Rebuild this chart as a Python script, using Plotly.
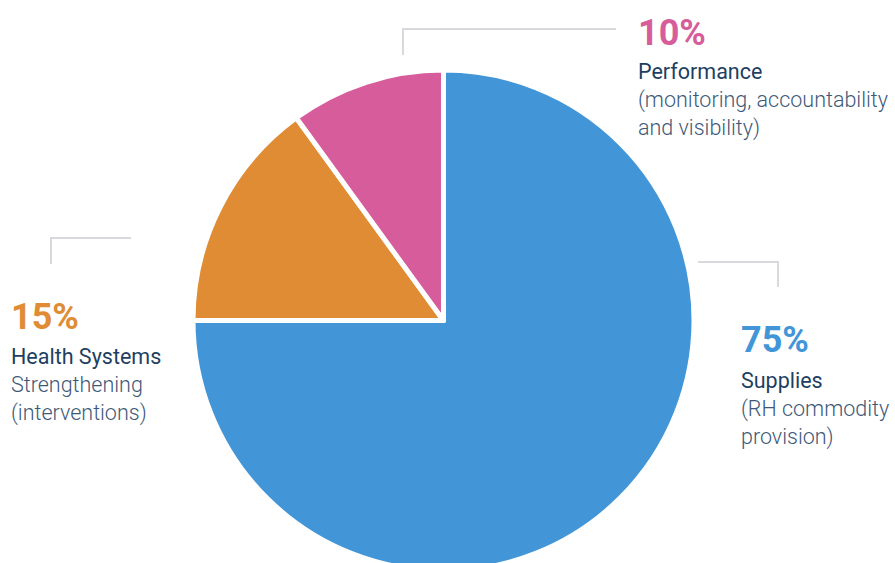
import plotly.graph_objects as go

# ---- data ----
labels = ["Supplies", "Health Systems", "Performance"]
values = [75, 15, 10]
pct_labels = ["75%", "15%", "10%"]
titles = ["Supplies", "Health Systems", "Performance"]
subtitles = [
    "(RH commodity<br>provision)",
    "Strengthening<br>(interventions)",
    "(monitoring, accountability<br>and visibility)",
]
colors = ["#4296D7", "#E08C35", "#D75C9B"]

W, H = 895, 572

def px(x):
    return x / W

def py(y):
    return (H - y) / H

fig = go.Figure(
    go.Pie(
        labels=labels,
        values=values,
        sort=False,
        direction="clockwise",
        rotation=0,
        marker=dict(colors=colors, line=dict(color="white", width=5)),
        textinfo="none",
        hoverinfo="label+percent",
        showlegend=False,
        domain=dict(x=[px(193), px(694)], y=[py(571), py(70)]),
    )
)

# label layout (pixel anchors for percent and text block)
label_pos = [
    dict(x=739, pct_y=340, txt_y=381),  # Supplies
    dict(x=9, pct_y=317, txt_y=357),    # Health Systems
    dict(x=636, pct_y=33, txt_y=72),    # Performance
]

title_color = "#1E3F62"
sub_color = "#3E5978"

annotations = []
for i in range(len(labels)):
    p = label_pos[i]
    annotations.append(dict(
        x=px(p["x"]), y=py(p["pct_y"]), xref="paper", yref="paper",
        xanchor="left", yanchor="middle", showarrow=False,
        text=f"<b>{pct_labels[i]}</b>",
        font=dict(family="Roboto", size=36, color=colors[i]),
    ))
    annotations.append(dict(
        x=px(p["x"]), y=py(p["txt_y"] - 15), xref="paper", yref="paper",
        xanchor="left", yanchor="top", align="left", showarrow=False,
        text=f"<span style='color:{title_color};font-weight:400'>{titles[i]}</span><br>{subtitles[i]}",
        font=dict(family="Roboto", size=21.5, color=sub_color, weight=300),
    ))

# leader lines (gray brackets)
line_style = dict(color="#D9D9DD", width=2)
brackets = [
    [(698, 262), (778, 262), (778, 287)],
    [(131, 238), (51, 238), (51, 264)],
    [(616, 29), (403, 29), (403, 55)],
]
shapes = []
for pts in brackets:
    path = "M " + " L ".join(f"{px(x)},{py(y)}" for x, y in pts)
    shapes.append(dict(type="path", xref="paper", yref="paper", path=path, line=line_style))

fig.update_layout(
    width=W, height=H,
    margin=dict(l=0, r=0, t=0, b=0),
    paper_bgcolor="white", plot_bgcolor="white",
    annotations=annotations, shapes=shapes,
)

fig.write_html(
    "out.html",
    config={"displayModeBar": False},
    post_script="document.body.style.margin='0';document.body.style.overflow='hidden';",
)
